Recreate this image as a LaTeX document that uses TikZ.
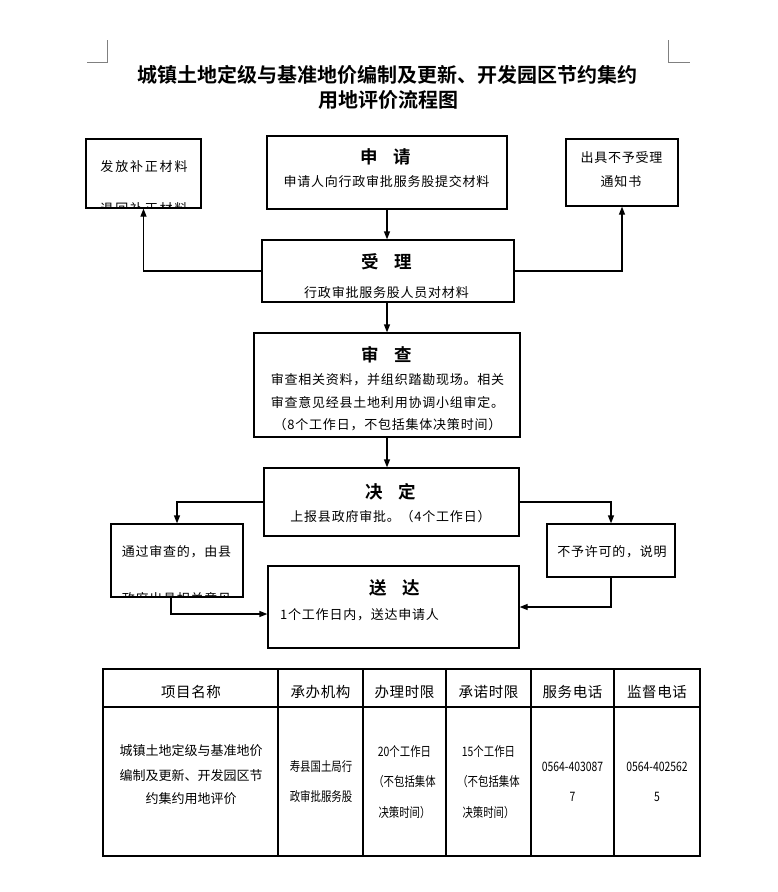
\documentclass[tikz,border=0pt]{standalone}
\usepackage{fontspec}
\setmainfont{Noto Sans CJK SC}[BoldFont={Noto Sans CJK SC Bold}]
\usetikzlibrary{arrows.meta}
\newcommand{\narr}[1]{\scalebox{0.8}[1]{#1}}
\tikzset{
  box/.style={draw, line width=1.3pt, inner sep=0pt},
  arr/.style={line width=1.3pt, -{Triangle[length=8pt,width=6pt]}},
  txt/.style={inner sep=0pt, font=\fontsize{13}{15}\selectfont\addfontfeatures{LetterSpace=6}},
  wtxt/.style={inner sep=0pt, font=\fontsize{13}{15}\selectfont\addfontfeatures{LetterSpace=14}},
  head/.style={inner sep=0pt, font=\fontsize{17.5}{19}\selectfont\bfseries},
  ttl/.style={inner sep=0pt, font=\fontsize{20}{22}\selectfont\bfseries},
  th/.style={inner sep=0pt, font=\fontsize{14.5}{16}\selectfont\addfontfeatures{LetterSpace=4}},
  td/.style={inner sep=0pt, font=\fontsize{13}{15}\selectfont},
  tline/.style={line width=1.1pt},
  cornermark/.style={line width=0.6pt, gray}
}
\begin{document}
\begin{tikzpicture}[x=1pt,y=-1pt]
\useasboundingbox[fill=white] (0,0) rectangle (778,892);
% corner marks
\draw[cornermark] (107,40) -- (107,62) -- (87,62);
\draw[cornermark] (668,40) -- (668,62) -- (690,62);
% title
\node[ttl] (t1) at (387,75) {城镇土地定级与基准地价编制及更新、开发园区节约集约};
\node[ttl] (t2) at (388,100) {用地评价流程图};
% boxes
\node[box, minimum width=115pt, minimum height=69pt] (fafang) at (143.5,173.5) {};
\node[box, minimum width=240pt, minimum height=73pt] (shen) at (387,172.5) {};
\node[box, minimum width=112pt, minimum height=67pt] (chuju) at (622,172.5) {};
\node[box, minimum width=252pt, minimum height=62pt] (shou) at (388,271) {};
\node[box, minimum width=266pt, minimum height=104pt] (shencha) at (387,385) {};
\node[box, minimum width=255pt, minimum height=68pt] (jue) at (391.5,502) {};
\node[box, minimum width=132pt, minimum height=73pt] (tong) at (177,560.5) {};
\node[box, minimum width=128pt, minimum height=53pt] (buyu) at (611,550.5) {};
\node[box, minimum width=251pt, minimum height=82pt] (song) at (393.5,607) {};
% texts in boxes
\node[head] (shenh) at (386,157) {申\hspace{0.9em}请};
\node[txt] (shent) at (386.5,182) {申请人向行政审批服务股提交材料};
\node[txt] (chu1) at (621.5,158) {出具不予受理};
\node[txt] (chu2) at (621,182) {通知书};
\node[wtxt] (fa1) at (144,167) {发放补正材料};
\begin{scope}
  \clip (87,139) rectangle (200,206.5);
  \node[wtxt] (fa2) at (144,209) {退回补正材料};
\end{scope}
\node[head] (shouh) at (386.5,262) {受\hspace{0.9em}理};
\begin{scope}
  \clip (263,241) rectangle (513,300.5);
  \node[txt] (shout) at (386.5,292.5) {行政审批服务股人员对材料};
\end{scope}
\node[head] (chah) at (387,355) {审\hspace{0.9em}查};
\node[txt] (cha1) at (387.5,380) {审查相关资料，并组织踏勘现场。相关};
\node[txt] (cha2) at (387.5,403) {审查意见经县土地利用协调小组审定。};
\node[txt] (cha3) at (387.5,425) {（8个工作日，不包括集体决策时间）};
\node[head] (jueh) at (391,492) {决\hspace{0.9em}定};
\node[txt] (juet) at (390.5,517) {上报县政府审批。（4个工作日）};
\node[txt] (tong1) at (176.5,552) {通过审查的，由县};
\begin{scope}
  \clip (112,525) rectangle (242,595.5);
  \node[txt] (tong2) at (176.5,599) {政府出具相关意见};
\end{scope}
\node[txt] (buyut) at (612,552) {不予许可的，说明};
\node[head] (songh) at (394.5,588) {送\hspace{0.9em}达};
\node[txt, anchor=west] (songt) at (280,615) {1个工作日内，送达申请人};
% connectors
\draw[arr] (shen.south) -- (shen.south |- shou.north);
\draw[arr] (shou.west) -| (fafang.south);
\draw[arr] (shou.east) -| (chuju.south);
\draw[arr] (shencha.north |- shou.south) -- (shencha.north);
\draw[arr] (shencha.south) -- (shencha.south |- jue.north);
\draw[arr] (jue.west) -| (tong.north);
\draw[arr] (jue.east) -| (buyu.north);
\draw[arr] ([xshift=-6pt]tong.south) |- ([yshift=-7pt]song.west);
\draw[arr] (buyu.south) |- (song.east);
% table
\draw[tline] (103,669) rectangle (700,856);
\draw[tline] (103,707) -- (700,707);
\foreach \cx in {278,363,446,531,614} \draw[tline] (\cx,669) -- (\cx,856);
\node[th] (h1) at (191,692) {项目名称};
\node[th] (h2) at (320.5,692) {承办机构};
\node[th] (h3) at (404.5,692) {办理时限};
\node[th] (h4) at (488.5,692) {承诺时限};
\node[th] (h5) at (572.5,692) {服务电话};
\node[th] (h6) at (657,692) {监督电话};
\node[td] (c11) at (191,751) {城镇土地定级与基准地价};
\node[td] (c12) at (191,776) {编制及更新、开发园区节};
\node[td] (c13) at (191,799) {约集约用地评价};
\node[td] (c21) at (321,767) {\narr{寿县国土局行}};
\node[td] (c22) at (321,797) {\narr{政审批服务股}};
\node[td] (c31) at (404.5,752) {\narr{20个工作日}};
\node[td] (c32) at (404.5,782) {\narr{（不包括集体}};
\node[td] (c33) at (404.5,813) {\narr{决策时间）}};
\node[td] (c41) at (488.5,752) {\narr{15个工作日}};
\node[td] (c42) at (488.5,782) {\narr{（不包括集体}};
\node[td] (c43) at (488.5,813) {\narr{决策时间）}};
\node[td] (c51) at (572.5,767) {\narr{0564-403087}};
\node[td] (c52) at (572.5,797) {\narr{7}};
\node[td] (c61) at (657,767) {\narr{0564-402562}};
\node[td] (c62) at (657,797) {\narr{5}};
\end{tikzpicture}
\end{document}
